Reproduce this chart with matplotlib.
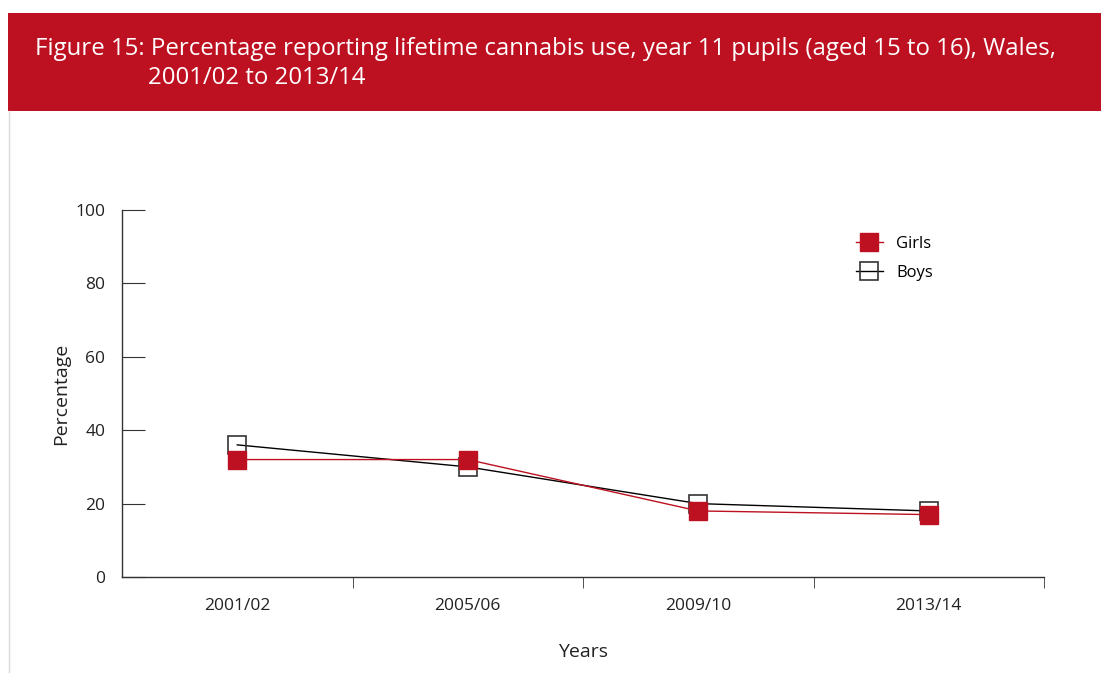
import matplotlib.pyplot as plt
import numpy as np
from matplotlib.patches import Rectangle
from matplotlib.lines import Line2D

plt.rcParams['font.family'] = ['Open Sans', 'DejaVu Sans']

years = ['2001/02', '2005/06', '2009/10', '2013/14']
girls = [32, 32, 18, 17]
boys = [36, 30, 20, 18]

red = '#BD1020'

fig = plt.figure(figsize=(11.01, 6.73), dpi=100)

# red title banner
fig.patches.append(Rectangle((8 / 1101, 1 - 111 / 673), 1 - 8 / 1101, 98 / 673,
                             transform=fig.transFigure, facecolor=red, edgecolor='none'))
fig.lines.append(Line2D([8.5 / 1101, 8.5 / 1101], [0, 1 - 111 / 673], transform=fig.transFigure,
                        color='#d9d9d9', linewidth=1))
fig.text(35 / 1101, 1 - 49 / 673, 'Figure 15: Percentage reporting lifetime cannabis use, year 11 pupils (aged 15 to 16), Wales,',
         color='white', fontsize=17.3, va='center', ha='left')
fig.text(148 / 1101, 1 - 78 / 673, '2001/02 to 2013/14',
         color='white', fontsize=17.3, va='center', ha='left')

ax = fig.add_axes([122 / 1101, 1 - 577 / 673, (1044 - 122) / 1101, (577 - 210) / 673])
x = np.arange(len(years))

ax.plot(x, boys, color='black', linewidth=1, marker='s', markersize=12.5,
        markerfacecolor='none', markeredgecolor='#333333', markeredgewidth=1.2, label='Boys', zorder=2)
ax.plot(x, girls, color=red, linewidth=1, marker='s', markersize=12.5,
        markerfacecolor=red, markeredgecolor=red, label='Girls', zorder=3)

ax.set_xlim(-0.5, 3.5)
ax.set_ylim(0, 100)
ax.set_yticks([0, 20, 40, 60, 80, 100])
ax.set_xticks(x)
ax.set_xticklabels(years)
ax.set_xticks([0.5, 1.5, 2.5, 3.5], minor=True)
ax.tick_params(axis='x', which='major', length=0, pad=15, labelsize=12.5, colors='#222222')
ax.tick_params(axis='x', which='minor', length=8, direction='out', color='#333333')
ax.tick_params(axis='y', length=16.5, direction='in', pad=12, labelsize=12.5,
               colors='#333333', labelcolor='#222222')

for s in ['top', 'right']:
    ax.spines[s].set_visible(False)
for s in ['left', 'bottom']:
    ax.spines[s].set_color('#333333')
    ax.spines[s].set_linewidth(1)

ax.set_ylabel('Percentage', fontsize=14, labelpad=4, color='#222222')
ax.set_xlabel('Years', fontsize=14, labelpad=21, color='#222222')

handles, labels = ax.get_legend_handles_labels()
ax.legend(handles[::-1], labels[::-1], loc='upper left', bbox_to_anchor=(0.78, 0.97),
          frameon=False, fontsize=12, handlelength=1.6, labelspacing=0.75, markerscale=1)

fig.savefig('out.png', dpi=100)
